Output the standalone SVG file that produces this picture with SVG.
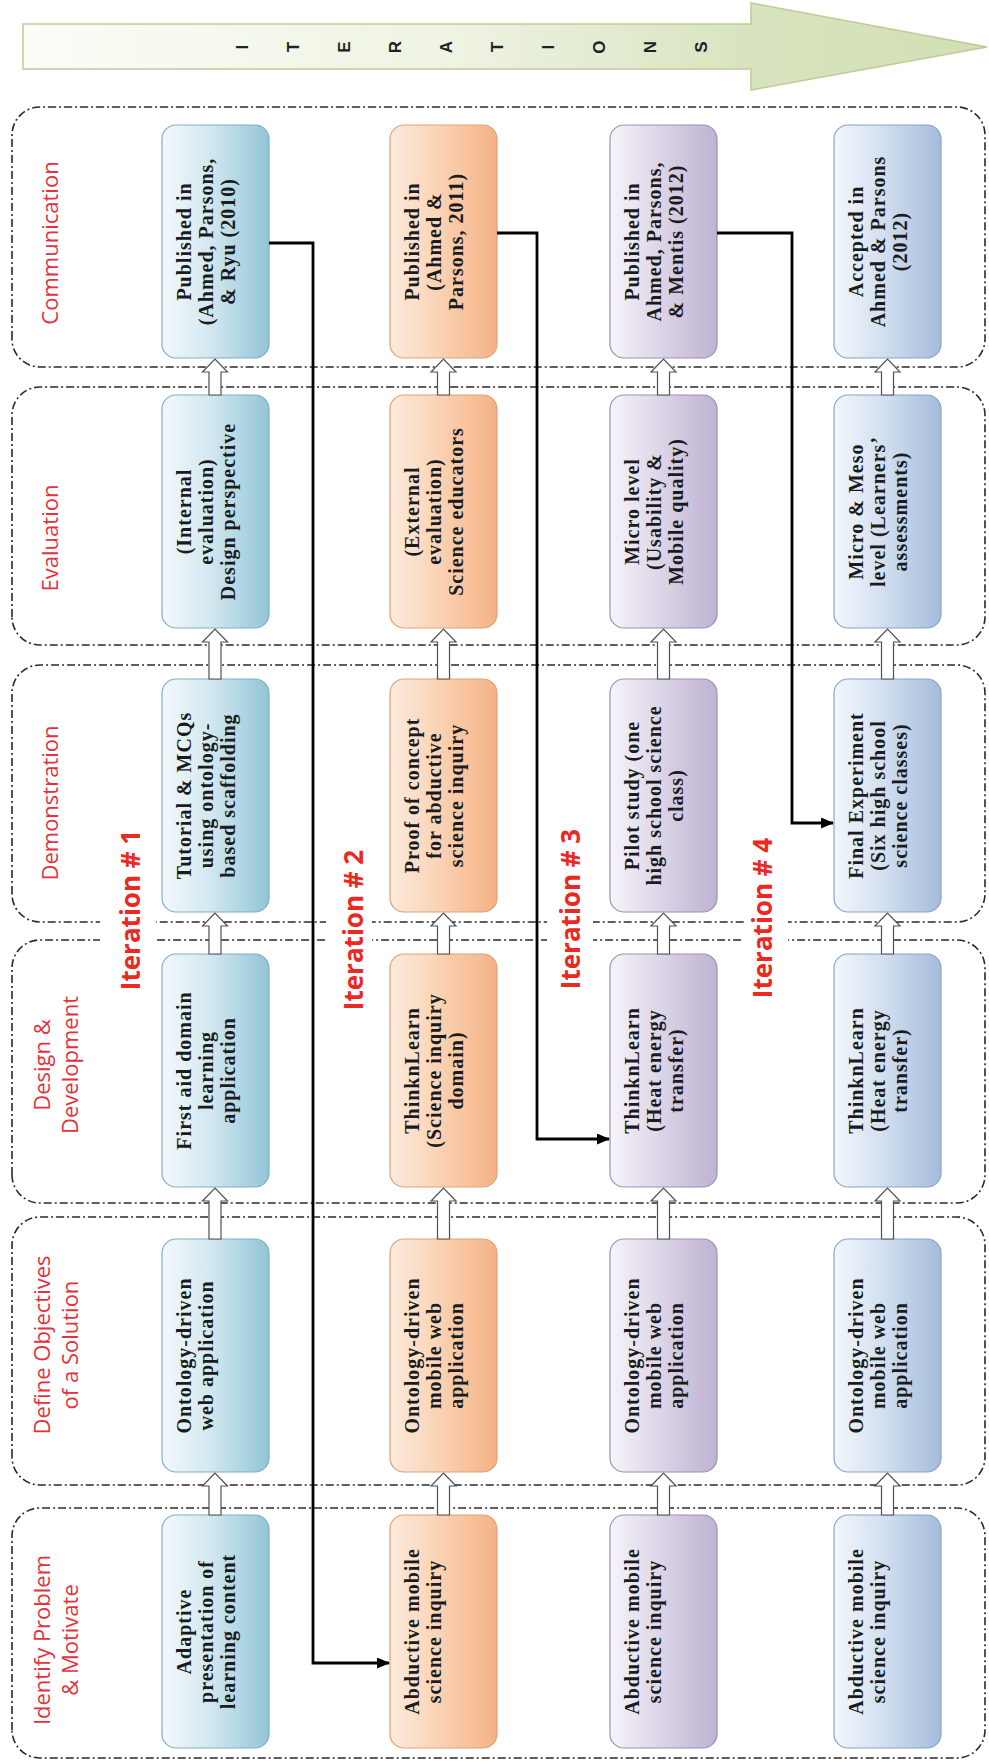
<svg xmlns="http://www.w3.org/2000/svg" width="989" height="1763" viewBox="0 0 989 1763">
  <style>
    .band { fill: none; stroke: #2a2a2a; stroke-width: 1.6; stroke-dasharray: 8 3 2 3; }
    .phase { font-family: "Open Sans", "Liberation Sans", sans-serif; font-size: 22px; fill: #e2323f; text-anchor: middle; }
    .iter { font-family: "Open Sans", "Liberation Sans", sans-serif; font-weight: bold; font-size: 26px; fill: #ea2a22; text-anchor: middle; }
    .mask { fill: #ffffff; stroke: none; }
    .nt { font-family: "Liberation Serif", "Times New Roman", serif; font-weight: bold; font-size: 20px; fill: #1b1b1b; text-anchor: middle; letter-spacing: 1px; }
    .n1 { fill: url(#g1); stroke: #7fb0c2; stroke-width: 1.2; }
    .n2 { fill: url(#g2); stroke: #dba37a; stroke-width: 1.2; }
    .n3 { fill: url(#g3); stroke: #9c92b4; stroke-width: 1.2; }
    .n4 { fill: url(#g4); stroke: #8aa3c6; stroke-width: 1.2; }
    .step { fill: #ffffff; stroke: #505050; stroke-width: 1.2; }
    .link { fill: none; stroke: #000000; stroke-width: 2.8; marker-end: url(#ah); }
    .letter { font-family: "Liberation Sans", Arial, sans-serif; font-weight: bold; font-size: 17px; fill: #222222; text-anchor: middle; }
  </style>
  <defs>
    <linearGradient id="g1" x1="0" y1="0" x2="0" y2="1">
      <stop offset="0" stop-color="#f3f9fb"/>
      <stop offset="0.45" stop-color="#d2e8f0"/>
      <stop offset="1" stop-color="#93c5d7"/>
    </linearGradient>
    <linearGradient id="g2" x1="0" y1="0" x2="0" y2="1">
      <stop offset="0" stop-color="#fdebdd"/>
      <stop offset="0.45" stop-color="#fad3b5"/>
      <stop offset="1" stop-color="#f4b284"/>
    </linearGradient>
    <linearGradient id="g3" x1="0" y1="0" x2="0" y2="1">
      <stop offset="0" stop-color="#f6f4f9"/>
      <stop offset="0.45" stop-color="#ddd6e8"/>
      <stop offset="1" stop-color="#bfb2d3"/>
    </linearGradient>
    <linearGradient id="g4" x1="0" y1="0" x2="0" y2="1">
      <stop offset="0" stop-color="#f3f7fc"/>
      <stop offset="0.45" stop-color="#d3e0f0"/>
      <stop offset="1" stop-color="#a4bcdb"/>
    </linearGradient>
    <linearGradient id="gArrow" gradientUnits="userSpaceOnUse" x1="23" y1="0" x2="987" y2="0">
      <stop offset="0" stop-color="#fbfdf7"/>
      <stop offset="0.45" stop-color="#eef3e2"/>
      <stop offset="0.75" stop-color="#d8e4bf"/>
      <stop offset="1" stop-color="#d2dfb4"/>
    </linearGradient>
    <marker id="ah" markerWidth="13" markerHeight="11" refX="12" refY="5.5" orient="auto" markerUnits="userSpaceOnUse">
      <path d="M0,0 L13,5.5 L0,11 Z" fill="#000000"/>
    </marker>
  </defs>

  <rect x="0" y="0" width="989" height="1763" fill="#ffffff"/>

  <!-- ITERATIONS banner arrow -->
  <g id="iterations-arrow">
    <path d="M23,24 H751 V3 L987,47 L751,90 V69 H23 Z" fill="url(#gArrow)" stroke="#bfcb96" stroke-width="1.5"/>
    <g transform="translate(0,1763) rotate(-90)">
      <text class="letter" x="1716" y="248">I</text>
      <text class="letter" x="1716" y="299">T</text>
      <text class="letter" x="1716" y="350">E</text>
      <text class="letter" x="1716" y="401">R</text>
      <text class="letter" x="1716" y="452">A</text>
      <text class="letter" x="1716" y="503">T</text>
      <text class="letter" x="1716" y="554">I</text>
      <text class="letter" x="1716" y="605">O</text>
      <text class="letter" x="1716" y="656">N</text>
      <text class="letter" x="1716" y="707">S</text>
    </g>
  </g>

  <!-- Main process grid, laid out landscape and turned a quarter -->
  <g transform="translate(0,1763) rotate(-90)">

    <!-- phase bands -->
    <g id="bands">
      <rect class="band" x="5" y="12" width="250" height="973" rx="28"/>
      <rect class="band" x="278" y="12" width="268" height="973" rx="28"/>
      <rect class="band" x="560" y="12" width="263" height="973" rx="28"/>
      <rect class="band" x="841" y="12" width="257" height="973" rx="28"/>
      <rect class="band" x="1118" y="12" width="258" height="973" rx="28"/>
      <rect class="band" x="1396" y="12" width="260" height="973" rx="28"/>
    </g>

    <!-- phase titles -->
    <g id="phase-labels">
      <text class="phase" x="123" y="50">Identify Problem</text>
      <text class="phase" x="123" y="78">&amp; Motivate</text>
      <text class="phase" x="418" y="50">Define Objectives</text>
      <text class="phase" x="418" y="78">of a Solution</text>
      <text class="phase" x="698" y="50">Design &amp;</text>
      <text class="phase" x="698" y="78">Development</text>
      <text class="phase" x="960" y="58">Demonstration</text>
      <text class="phase" x="1225" y="58">Evaluation</text>
      <text class="phase" x="1520" y="58">Communication</text>
    </g>

    <!-- iteration titles -->
    <g id="iteration-labels">
      <rect class="mask" x="766" y="100" width="174" height="56"/>
      <text class="iter" x="853" y="140">Iteration # 1</text>
      <rect class="mask" x="746" y="326" width="174" height="46"/>
      <text class="iter" x="833" y="363">Iteration # 2</text>
      <rect class="mask" x="768" y="547" width="172" height="46"/>
      <text class="iter" x="854" y="580">Iteration # 3</text>
      <rect class="mask" x="760" y="744" width="171" height="44"/>
      <text class="iter" x="845" y="772">Iteration # 4</text>
    </g>

    <!-- Iteration 1 -->
    <g id="i1-identify">
      <rect class="n1" x="15" y="162" width="233" height="107" rx="14"/>
      <text class="nt" x="131.5" y="191">Adaptive</text>
      <text class="nt" x="131.5" y="213">presentation of</text>
      <text class="nt" x="131.5" y="235">learning content</text>
    </g>
    <g id="i1-define">
      <rect class="n1" x="291" y="162" width="233" height="107" rx="14"/>
      <text class="nt" x="407.5" y="191">Ontology-driven</text>
      <text class="nt" x="407.5" y="213">web application</text>
    </g>
    <g id="i1-design">
      <rect class="n1" x="576" y="162" width="233" height="107" rx="14"/>
      <text class="nt" x="692.5" y="191">First aid domain</text>
      <text class="nt" x="692.5" y="213">learning</text>
      <text class="nt" x="692.5" y="235">application</text>
    </g>
    <g id="i1-demo">
      <rect class="n1" x="851" y="162" width="233" height="107" rx="14"/>
      <text class="nt" x="967.5" y="191">Tutorial &amp; MCQs</text>
      <text class="nt" x="967.5" y="213">using ontology-</text>
      <text class="nt" x="967.5" y="235">based scaffolding</text>
    </g>
    <g id="i1-eval">
      <rect class="n1" x="1135" y="162" width="233" height="107" rx="14"/>
      <text class="nt" x="1251.5" y="191">(Internal</text>
      <text class="nt" x="1251.5" y="213">evaluation)</text>
      <text class="nt" x="1251.5" y="235">Design perspective</text>
    </g>
    <g id="i1-comm">
      <rect class="n1" x="1405" y="162" width="233" height="107" rx="14"/>
      <text class="nt" x="1521.5" y="191">Published in</text>
      <text class="nt" x="1521.5" y="213">(Ahmed, Parsons,</text>
      <text class="nt" x="1521.5" y="235">&amp; Ryu (2010)</text>
    </g>

    <!-- Iteration 2 -->
    <g id="i2-identify">
      <rect class="n2" x="15" y="390" width="233" height="107" rx="14"/>
      <text class="nt" x="131.5" y="419">Abductive mobile</text>
      <text class="nt" x="131.5" y="441">science inquiry</text>
    </g>
    <g id="i2-define">
      <rect class="n2" x="291" y="390" width="233" height="107" rx="14"/>
      <text class="nt" x="407.5" y="419">Ontology-driven</text>
      <text class="nt" x="407.5" y="441">mobile web</text>
      <text class="nt" x="407.5" y="463">application</text>
    </g>
    <g id="i2-design">
      <rect class="n2" x="576" y="390" width="233" height="107" rx="14"/>
      <text class="nt" x="692.5" y="419">ThinknLearn</text>
      <text class="nt" x="692.5" y="441">(Science inquiry</text>
      <text class="nt" x="692.5" y="463">domain)</text>
    </g>
    <g id="i2-demo">
      <rect class="n2" x="851" y="390" width="233" height="107" rx="14"/>
      <text class="nt" x="967.5" y="419">Proof of concept</text>
      <text class="nt" x="967.5" y="441">for abductive</text>
      <text class="nt" x="967.5" y="463">science inquiry</text>
    </g>
    <g id="i2-eval">
      <rect class="n2" x="1135" y="390" width="233" height="107" rx="14"/>
      <text class="nt" x="1251.5" y="419">(External</text>
      <text class="nt" x="1251.5" y="441">evaluation)</text>
      <text class="nt" x="1251.5" y="463">Science educators</text>
    </g>
    <g id="i2-comm">
      <rect class="n2" x="1405" y="390" width="233" height="107" rx="14"/>
      <text class="nt" x="1521.5" y="419">Published in</text>
      <text class="nt" x="1521.5" y="441">(Ahmed &amp;</text>
      <text class="nt" x="1521.5" y="463">Parsons, 2011)</text>
    </g>

    <!-- Iteration 3 -->
    <g id="i3-identify">
      <rect class="n3" x="15" y="610" width="233" height="107" rx="14"/>
      <text class="nt" x="131.5" y="639">Abductive mobile</text>
      <text class="nt" x="131.5" y="661">science inquiry</text>
    </g>
    <g id="i3-define">
      <rect class="n3" x="291" y="610" width="233" height="107" rx="14"/>
      <text class="nt" x="407.5" y="639">Ontology-driven</text>
      <text class="nt" x="407.5" y="661">mobile web</text>
      <text class="nt" x="407.5" y="683">application</text>
    </g>
    <g id="i3-design">
      <rect class="n3" x="576" y="610" width="233" height="107" rx="14"/>
      <text class="nt" x="692.5" y="639">ThinknLearn</text>
      <text class="nt" x="692.5" y="661">(Heat energy</text>
      <text class="nt" x="692.5" y="683">transfer)</text>
    </g>
    <g id="i3-demo">
      <rect class="n3" x="851" y="610" width="233" height="107" rx="14"/>
      <text class="nt" x="967.5" y="639">Pilot study (one</text>
      <text class="nt" x="967.5" y="661">high school science</text>
      <text class="nt" x="967.5" y="683">class)</text>
    </g>
    <g id="i3-eval">
      <rect class="n3" x="1135" y="610" width="233" height="107" rx="14"/>
      <text class="nt" x="1251.5" y="639">Micro level</text>
      <text class="nt" x="1251.5" y="661">(Usability &amp;</text>
      <text class="nt" x="1251.5" y="683">Mobile quality)</text>
    </g>
    <g id="i3-comm">
      <rect class="n3" x="1405" y="610" width="233" height="107" rx="14"/>
      <text class="nt" x="1521.5" y="639">Published in</text>
      <text class="nt" x="1521.5" y="661">Ahmed, Parsons,</text>
      <text class="nt" x="1521.5" y="683">&amp; Mentis (2012)</text>
    </g>

    <!-- Iteration 4 -->
    <g id="i4-identify">
      <rect class="n4" x="15" y="834" width="233" height="107" rx="14"/>
      <text class="nt" x="131.5" y="863">Abductive mobile</text>
      <text class="nt" x="131.5" y="885">science inquiry</text>
    </g>
    <g id="i4-define">
      <rect class="n4" x="291" y="834" width="233" height="107" rx="14"/>
      <text class="nt" x="407.5" y="863">Ontology-driven</text>
      <text class="nt" x="407.5" y="885">mobile web</text>
      <text class="nt" x="407.5" y="907">application</text>
    </g>
    <g id="i4-design">
      <rect class="n4" x="576" y="834" width="233" height="107" rx="14"/>
      <text class="nt" x="692.5" y="863">ThinknLearn</text>
      <text class="nt" x="692.5" y="885">(Heat energy</text>
      <text class="nt" x="692.5" y="907">transfer)</text>
    </g>
    <g id="i4-demo">
      <rect class="n4" x="851" y="834" width="233" height="107" rx="14"/>
      <text class="nt" x="967.5" y="863">Final Experiment</text>
      <text class="nt" x="967.5" y="885">(Six high school</text>
      <text class="nt" x="967.5" y="907">science classes)</text>
    </g>
    <g id="i4-eval">
      <rect class="n4" x="1135" y="834" width="233" height="107" rx="14"/>
      <text class="nt" x="1251.5" y="863">Micro &amp; Meso</text>
      <text class="nt" x="1251.5" y="885">level (Learners’</text>
      <text class="nt" x="1251.5" y="907">assessments)</text>
    </g>
    <g id="i4-comm">
      <rect class="n4" x="1405" y="834" width="233" height="107" rx="14"/>
      <text class="nt" x="1521.5" y="863">Accepted in</text>
      <text class="nt" x="1521.5" y="885">Ahmed &amp; Parsons</text>
      <text class="nt" x="1521.5" y="907">(2012)</text>
    </g>

    <!-- connectors: block step arrows and feedback links -->
    <g id="connectors">
      <path class="step" d="M248,209 H277 V202.5 L290,215 L277,227.5 V221 H248 Z"/>
      <path class="step" d="M524,209 H562 V202.5 L575,215 L562,227.5 V221 H524 Z"/>
      <path class="step" d="M809,209 H837 V202.5 L850,215 L837,227.5 V221 H809 Z"/>
      <path class="step" d="M1084,209 H1121 V202.5 L1134,215 L1121,227.5 V221 H1084 Z"/>
      <path class="step" d="M1368,209 H1391 V202.5 L1404,215 L1391,227.5 V221 H1368 Z"/>

      <path class="step" d="M248,437.5 H277 V431 L290,443.5 L277,456 V449.5 H248 Z"/>
      <path class="step" d="M524,437.5 H562 V431 L575,443.5 L562,456 V449.5 H524 Z"/>
      <path class="step" d="M809,437.5 H837 V431 L850,443.5 L837,456 V449.5 H809 Z"/>
      <path class="step" d="M1084,437.5 H1121 V431 L1134,443.5 L1121,456 V449.5 H1084 Z"/>
      <path class="step" d="M1368,437.5 H1391 V431 L1404,443.5 L1391,456 V449.5 H1368 Z"/>

      <path class="step" d="M248,657.5 H277 V651 L290,663.5 L277,676 V669.5 H248 Z"/>
      <path class="step" d="M524,657.5 H562 V651 L575,663.5 L562,676 V669.5 H524 Z"/>
      <path class="step" d="M809,657.5 H837 V651 L850,663.5 L837,676 V669.5 H809 Z"/>
      <path class="step" d="M1084,657.5 H1121 V651 L1134,663.5 L1121,676 V669.5 H1084 Z"/>
      <path class="step" d="M1368,657.5 H1391 V651 L1404,663.5 L1391,676 V669.5 H1368 Z"/>

      <path class="step" d="M248,881.5 H277 V875 L290,887.5 L277,900 V893.5 H248 Z"/>
      <path class="step" d="M524,881.5 H562 V875 L575,887.5 L562,900 V893.5 H524 Z"/>
      <path class="step" d="M809,881.5 H837 V875 L850,887.5 L837,900 V893.5 H809 Z"/>
      <path class="step" d="M1084,881.5 H1121 V875 L1134,887.5 L1121,900 V893.5 H1084 Z"/>
      <path class="step" d="M1368,881.5 H1391 V875 L1404,887.5 L1391,900 V893.5 H1368 Z"/>

      <path class="link" d="M1520,269 V313 H100 V389"/>
      <path class="link" d="M1530,497 V537 H624 V609"/>
      <path class="link" d="M1530,717 V792 H940 V833"/>
    </g>
  </g>
</svg>
